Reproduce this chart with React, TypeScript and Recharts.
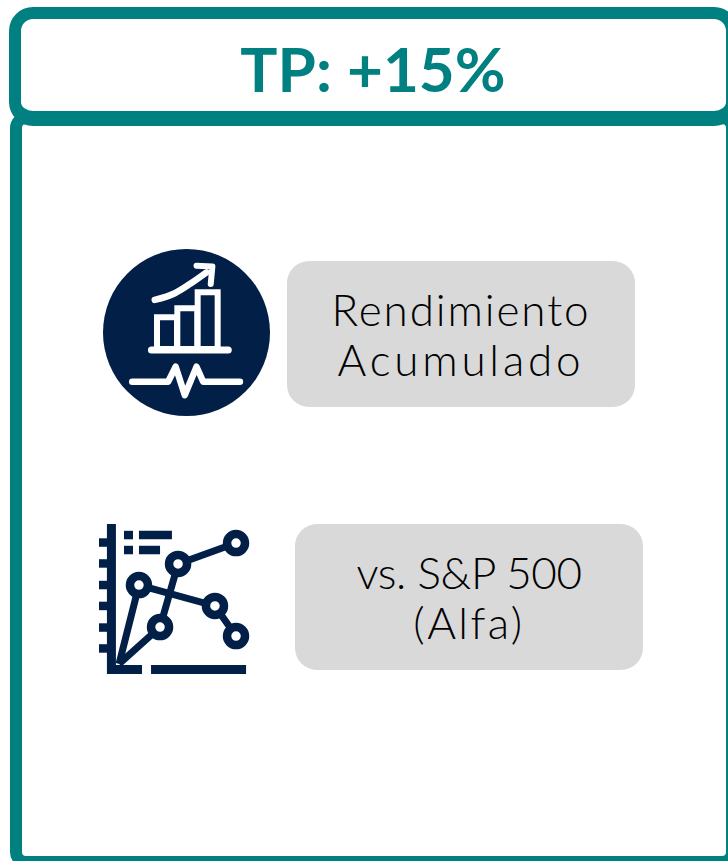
import React from "react";
import { ComposedChart, BarChart, Bar, Line, XAxis, YAxis, ReferenceLine } from "recharts";

const TEAL = "#008080";
const NAVY = "#021f47";
const GREY = "#d9d9d9";
const FONT = "Lato, 'Open Sans', sans-serif";

const titleText = "TP: +15%";
const labelOne = ["Rendimiento", "Acumulado"];
const labelTwo = ["vs. S&P 500", "(Alfa)"];
const spacingOne = [1.9, 3.8];
const spacingTwo = [-0.4, 2.5];

// First icon: growth bars, trend arrow, pulse trace
const growthNames = ["a", "b", "c"];
const growthY = [19, 24.5, 34];
const baselineX = [29, 75];
const trendX = [31, 43, 52, 62];
const trendY = [29.5, 33.5, 39, 46];
const arrowHeadX = [56, 65.5, 64.5];
const arrowHeadY = [50, 49.5, 39];
const pulseX = [17.5, 39, 43.5, 49, 56, 60, 82];
const pulseY = [-19.5, -19.5, -10.5, -27.5, -10.5, -19.5, -19.5];

// Second icon: two series from a common origin
const seriesAX = [17.1, 28.8, 73.5, 85.9];
const seriesAY = [12.4, 58.8, 46.5, 28.8];
const seriesBX = [17.1, 41.2, 51.8, 85.9];
const seriesBY = [12.4, 34.1, 71.2, 83.5];
const axisTicks = [83.8, 71.5, 58.8, 46.5, 33.8, 21.5];

const growthData = growthNames.map((name, i) => ({ name, y: growthY[i] }));
const zip = (xs: number[], ys: number[]) => xs.map((x, i) => ({ x, y: ys[i] }));

const hollowDot = (props: any) => {
  const { cx, cy, index } = props;
  if (index === 0) return <g key={index} />;
  return <circle key={index} cx={cx} cy={cy} r={9} fill="#fff" stroke={NAVY} strokeWidth={8.5} />;
};

const box = (left: number, top: number, width: number, height: number): React.CSSProperties => ({
  position: "absolute",
  left,
  top,
  width,
  height,
  boxSizing: "border-box",
});

function Pill({ left, top, lines, spacing }: { left: number; top: number; lines: string[]; spacing: number[] }) {
  return (
    <div
      style={{
        ...box(left, top, 348, 146),
        background: GREY,
        borderRadius: 22,
        display: "flex",
        flexDirection: "column",
        justifyContent: "center",
        alignItems: "center",
        fontFamily: FONT,
        fontWeight: 300,
        fontSize: 44,
        lineHeight: "50px",
        color: "#000",
      }}
    >
      {lines.map((l, i) => (
        <div key={l} style={{ letterSpacing: spacing[i] }}>
          {l}
        </div>
      ))}
    </div>
  );
}

function GrowthIcon() {
  return (
    <div style={box(103, 249, 167, 167)}>
      <div style={{ ...box(0, 0, 167, 167), background: NAVY, borderRadius: "50%" }} />
      <div style={box(47, 0, 75, 100)}>
        <BarChart
          width={75}
          height={100}
          data={growthData}
          barCategoryGap={0}
          margin={{ top: 0, right: 7, bottom: 0, left: 7 }}
        >
          <XAxis hide type="category" dataKey="name" />
          <YAxis hide type="number" domain={[0, 60]} />
          <Bar dataKey="y" fill={NAVY} stroke="#fff" strokeWidth={6} isAnimationActive={false} />
        </BarChart>
      </div>
      <div style={box(0, 0, 167, 167)}>
        <ComposedChart width={167} height={167} data={zip(trendX, trendY)} margin={{ top: 0, right: 0, bottom: 0, left: 0 }}>
          <XAxis hide type="number" dataKey="x" domain={[0, 100]} />
          <YAxis hide type="number" domain={[-40, 60]} />
          <ReferenceLine
            segment={[{ x: baselineX[0], y: -0.5 }, { x: baselineX[1], y: -0.5 }]}
            stroke="#fff"
            strokeWidth={7}
            strokeLinecap="round"
          />
          <Line data={zip(trendX, trendY)} dataKey="y" type="monotone" stroke="#fff" strokeWidth={6.5} strokeLinecap="round" dot={false} isAnimationActive={false} />
          <Line data={zip(arrowHeadX, arrowHeadY)} dataKey="y" type="linear" stroke="#fff" strokeWidth={6} strokeLinecap="round" strokeLinejoin="round" dot={false} isAnimationActive={false} />
          <Line data={zip(pulseX, pulseY)} dataKey="y" type="linear" stroke="#fff" strokeWidth={6.5} strokeLinecap="round" strokeLinejoin="round" dot={false} isAnimationActive={false} />
        </ComposedChart>
      </div>
    </div>
  );
}

function SeriesIcon() {
  const seg = (x1: number, x2: number, y: number, w: number, key: string) => (
    <ReferenceLine key={key} segment={[{ x: x1, y }, { x: x2, y }]} stroke={NAVY} strokeWidth={w} />
  );
  return (
    <div style={box(90, 515, 170, 170)}>
      <ComposedChart width={170} height={170} data={zip(seriesAX, seriesAY)} margin={{ top: 0, right: 0, bottom: 0, left: 0 }}>
        <XAxis hide type="number" dataKey="x" domain={[0, 100]} />
        <YAxis hide type="number" domain={[0, 100]} />
        <ReferenceLine segment={[{ x: 12.6, y: 6.5 }, { x: 12.6, y: 94.7 }]} stroke={NAVY} strokeWidth={9} />
        {axisTicks.map((t, i) => seg(5.3, 10, t, 8.5, `t${i}`))}
        {seg(10, 30.6, 9.1, 9, "b1")}
        {seg(35.9, 91.8, 9.1, 9, "b2")}
        {seg(20, 25.3, 88.2, 8.5, "k1")}
        {seg(28.8, 48.2, 88.2, 8.5, "k2")}
        {seg(20, 25.3, 79.4, 8.5, "k3")}
        {seg(28.8, 41.2, 79.4, 8.5, "k4")}
        <Line data={zip(seriesAX, seriesAY)} dataKey="y" type="linear" stroke={NAVY} strokeWidth={7} dot={hollowDot} isAnimationActive={false} />
        <Line data={zip(seriesBX, seriesBY)} dataKey="y" type="linear" stroke={NAVY} strokeWidth={7} dot={hollowDot} isAnimationActive={false} />
      </ComposedChart>
    </div>
  );
}

export default function App() {
  return (
    <div style={{ ...box(0, 0, 728, 861), overflow: "hidden", background: "#fff" }}>
      <div style={{ ...box(10, 112, 728, 756), border: `12px solid ${TEAL}`, borderRadius: 16 }} />
      <div
        style={{
          ...box(9, 7, 729, 119),
          border: `12px solid ${TEAL}`,
          borderBottomWidth: 15,
          borderRadius: 24,
          background: "#fff",
        }}
      />
      <div
        style={{
          ...box(241, 30, 264, 76),
          display: "flex",
          alignItems: "center",
          justifyContent: "center",
          whiteSpace: "nowrap",
          fontFamily: FONT,
          fontWeight: 700,
          fontSize: 62,
          color: TEAL,
        }}
      >
        {titleText}
      </div>
      <GrowthIcon />
      <Pill left={287} top={261} lines={labelOne} spacing={spacingOne} />
      <SeriesIcon />
      <Pill left={295} top={524} lines={labelTwo} spacing={spacingTwo} />
    </div>
  );
}
